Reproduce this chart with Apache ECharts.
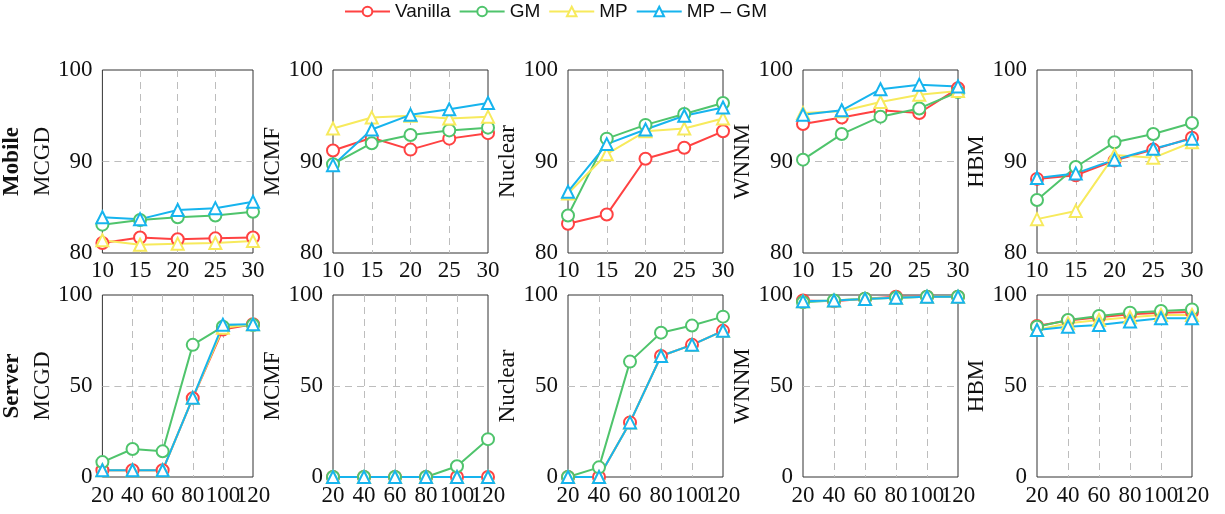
<!DOCTYPE html>
<html>
<head>
<meta charset="utf-8">
<script src="https://cdn.jsdelivr.net/npm/echarts@6/dist/echarts.min.js"></script>
<style>
  html, body { margin: 0; padding: 0; background: #fff; }
  #chart { width: 1225px; height: 514px; }
</style>
</head>
<body>
<div id="chart"></div>
<script>
const seriesNames = ["Vanilla", "GM", "MP", "MP – GM"];
const methods = ["MCGD", "MCMF", "Nuclear", "WNNM", "HBM"];
const mobileX = [10, 15, 20, 25, 30];
const serverX = [20, 40, 60, 80, 100, 120];

// each list: [Vanilla, GM, MP, MP – GM]
const mobileMCGD = [
  [81.1, 81.7, 81.5, 81.6, 81.7],
  [83.1, 83.6, 83.9, 84.1, 84.5],
  [81.4, 80.9, 81.0, 81.1, 81.3],
  [83.9, 83.7, 84.7, 84.9, 85.6],
];
const mobileMCMF = [
  [91.2, 92.6, 91.3, 92.5, 93.1],
  [89.7, 92.0, 92.9, 93.4, 93.7],
  [93.6, 94.8, 95.0, 94.7, 94.9],
  [89.6, 93.5, 95.1, 95.7, 96.4],
];
const mobileNuclear = [
  [83.2, 84.2, 90.3, 91.5, 93.3],
  [84.1, 92.5, 94.0, 95.2, 96.4],
  [86.5, 90.8, 93.3, 93.6, 94.7],
  [86.7, 91.9, 93.5, 95.0, 95.9],
];
const mobileWNNM = [
  [94.1, 94.8, 95.6, 95.3, 98.0],
  [90.2, 93.0, 94.9, 95.8, 97.6],
  [95.3, 95.5, 96.5, 97.3, 97.7],
  [95.1, 95.6, 97.9, 98.4, 98.2],
];
const mobileHBM = [
  [88.1, 88.5, 90.1, 91.3, 92.6],
  [85.8, 89.4, 92.1, 93.0, 94.2],
  [83.7, 84.6, 90.7, 90.4, 92.1],
  [88.2, 88.7, 90.2, 91.4, 92.5],
];

const serverMCGD = [
  [3.7, 3.7, 3.7, 43.3, 81.0, 83.9],
  [8.2, 15.4, 14.1, 72.6, 82.6, 83.5],
  [3.7, 3.7, 3.7, 43.5, 82.0, 83.9],
  [3.7, 3.7, 3.7, 43.5, 83.7, 83.9],
];
const serverMCMF = [
  [0, 0, 0, 0, 0, 0],
  [0, 0, 0, 0, 5.9, 20.8],
  [0, 0, 0, 0, 0, 0],
  [0, 0, 0, 0, 0, 0],
];
const serverNuclear = [
  [0, 0, 30.0, 66.5, 72.6, 80.3],
  [0, 5.3, 63.4, 79.3, 83.2, 88.1],
  [0, 0, 30.0, 66.5, 72.6, 80.3],
  [0, 0, 30.0, 66.5, 72.6, 80.3],
];
const serverWNNM = [
  [97.0, 96.5, 98.0, 99.0, 99.0, 99.0],
  [96.0, 97.0, 98.0, 98.5, 99.0, 99.0],
  [96.5, 97.0, 98.0, 98.5, 99.0, 99.0],
  [96.5, 97.0, 97.8, 98.5, 99.0, 99.0],
];
const serverHBM = [
  [83.0, 86.0, 87.8, 89.4, 90.3, 90.7],
  [82.6, 86.3, 88.5, 90.3, 91.2, 92.1],
  [80.8, 84.5, 86.3, 87.8, 89.0, 89.0],
  [80.8, 82.6, 83.5, 85.4, 87.2, 87.2],
];

const mobileData = [mobileMCGD, mobileMCMF, mobileNuclear, mobileWNNM, mobileHBM];
const serverData = [serverMCGD, serverMCMF, serverNuclear, serverWNNM, serverHBM];

const colors = ["#ff4242", "#4fc46c", "#f7ea5c", "#16b4ee"];
const symbols = ["emptyCircle", "emptyCircle", "emptyTriangle", "emptyTriangle"];
const serif = "Liberation Serif";

const gridLeft = [98, 333, 568, 803, 1037];
const rows = [
  { top: 70, height: 183, label: "Mobile", xs: mobileX, data: mobileData, min: 80, max: 100, step: 10, xmin: 10, xmax: 30, xstep: 5, margin: 6, split: false },
  { top: 295, height: 182, label: "Server", xs: serverX, data: serverData, min: 0, max: 100, step: 50, xmin: 20, xmax: 120, xstep: 20, margin: 7, split: true },
];

const gridLine = { show: true, showMinLine: false, showMaxLine: false, lineStyle: { color: "#bdbdbd", type: [7, 5], width: 1 } };

function xLabel(row, formatter) {
  return {
    fontFamily: serif, fontSize: 23, color: "#111", margin: row.margin,
    showMinLabel: true, showMaxLabel: true, hideOverlap: false,
    formatter: formatter,
  };
}

const grids = [], xAxes = [], yAxes = [], series = [];

rows.forEach((row, r) => {
  methods.forEach((m, c) => {
    const idx = grids.length;
    grids.push({
      left: gridLeft[c], top: row.top, width: 155, height: row.height,
      show: true, borderColor: "#333", borderWidth: 1, containLabel: false,
    });
    const xIdx = xAxes.length;
    // crowded labels (80100120) are split over two stacked axes so none is dropped
    const even = (v) => (row.split && ((v - row.xmin) / row.xstep) % 2 === 1 ? "" : String(v));
    const odd = (v) => (((v - row.xmin) / row.xstep) % 2 === 1 ? String(v) : "");
    xAxes.push({
      type: "value", gridIndex: idx, position: "bottom", min: row.xmin, max: row.xmax, interval: row.xstep,
      axisLine: { show: false }, axisTick: { show: false },
      axisLabel: xLabel(row, even),
      splitLine: gridLine,
    });
    if (row.split) {
      xAxes.push({
        type: "value", gridIndex: idx, position: "bottom", offset: 0, min: row.xmin, max: row.xmax, interval: row.xstep,
        axisLine: { show: false }, axisTick: { show: false },
        axisLabel: xLabel(row, odd),
        splitLine: { show: false },
      });
    }
    yAxes.push({
      type: "value", gridIndex: idx, min: row.min, max: row.max, interval: row.step,
      axisLine: { show: false }, axisTick: { show: false },
      axisLabel: { fontFamily: serif, fontSize: 23, color: "#111", margin: 10, showMinLabel: true, showMaxLabel: true },
      splitLine: gridLine,
      name: c === 0 ? "{b|" + row.label + "}\n{n|" + m + "}" : "{n|" + m + "}",
      nameLocation: "middle", nameGap: 36,
      nameTextStyle: {
        rich: {
          b: { fontFamily: serif, fontSize: 23, fontWeight: "bold", lineHeight: 30, color: "#111" },
          n: { fontFamily: serif, fontSize: 23, lineHeight: 30, color: "#111" },
        },
      },
    });
    seriesNames.forEach((name, s) => {
      series.push({
        name: name, type: "line", xAxisIndex: xIdx, yAxisIndex: idx,
        data: row.xs.map((x, i) => [x, row.data[c][s][i]]),
        symbol: symbols[s], symbolSize: 12,
        lineStyle: { width: 2, color: colors[s] },
        itemStyle: { color: colors[s], borderColor: colors[s], borderWidth: 2 },
        clip: false, animation: false,
      });
    });
  });
});

const chart = echarts.init(document.getElementById("chart"), null, { renderer: "canvas" });
chart.setOption({
  animation: false,
  color: colors,
  legend: {
    data: seriesNames, top: 2, left: 344, padding: 0,
    itemWidth: 45, itemHeight: 12, itemGap: 8,
    textStyle: { fontFamily: "Liberation Sans", fontSize: 19, color: "#111" },
  },
  grid: grids,
  xAxis: xAxes,
  yAxis: yAxes,
  series: series,
});
</script>
</body>
</html>
